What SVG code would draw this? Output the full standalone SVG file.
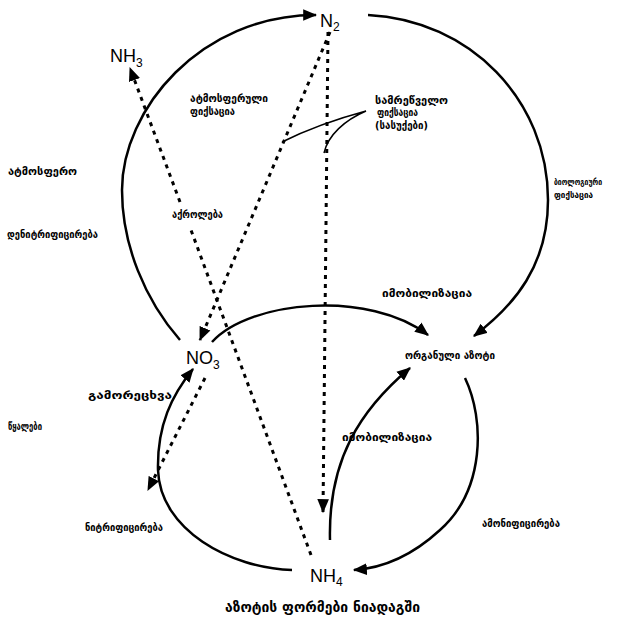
<svg xmlns="http://www.w3.org/2000/svg" width="625" height="630" viewBox="0 0 625 630">
<style>
.arc{fill:none;stroke:#000;stroke-width:2.5}
.dash{fill:none;stroke:#000;stroke-width:3;stroke-dasharray:4 5}
.thin{fill:none;stroke:#000;stroke-width:1.5}
.lbl{font-family:"DejaVu Sans",sans-serif;font-weight:bold;font-size:11px;fill:#000}
.sm{font-size:9px}
.chem{font-family:"Liberation Sans",Arial,sans-serif;font-size:18px;fill:#000}
.sub{font-size:12px}
.title{font-family:"DejaVu Sans",sans-serif;font-weight:bold;font-size:15px;fill:#000}
</style>
<defs>
<marker id="ah" viewBox="0 0 12 10" refX="11" refY="5" markerWidth="14" markerHeight="12" markerUnits="userSpaceOnUse" orient="auto">
<path d="M0,0 L12,5 L0,10 Z" fill="#000"/>
</marker>
</defs>
<rect width="625" height="630" fill="#fff"/>
<g id="connectors">
<path class="arc" d="M180,340 C145,300 122,245 122,190 C122,110 200,15 316,15" marker-end="url(#ah)"/>
<path class="arc" d="M368,15 C470,20 548,100 548,200 C548,265 515,305 474,336" marker-end="url(#ah)"/>
<path class="arc" d="M212,342 C250,300 370,290 428,335" marker-end="url(#ah)"/>
<path class="arc" d="M465,378 C485,420 485,490 440,530 C415,553 385,568 354,570" marker-end="url(#ah)"/>
<path class="arc" d="M292,570 C230,568 160,530 158,470 C157,425 172,395 193,369" marker-end="url(#ah)"/>
<path class="arc" d="M330,540 C328,460 360,410 410,368" marker-end="url(#ah)"/>
<path class="dash" d="M330,32 L200,340" marker-end="url(#ah)"/>
<path class="dash" d="M328,32 L323,512" marker-end="url(#ah)"/>
<path class="dash" d="M311,555 L191,230"/>
<path class="dash" d="M180,202 L130,68" marker-end="url(#ah)"/>
<path class="dash" d="M205,378 L148,490" marker-end="url(#ah)"/>
<path class="thin" d="M282,142 C310,128 340,118 366,111 C345,120 328,135 324,153"/>
</g>
<g id="labels">
<text class="lbl" x="190" y="102" textLength="78" lengthAdjust="spacingAndGlyphs">ატმოსფერული</text>
<text class="lbl" x="190" y="115" textLength="45" lengthAdjust="spacingAndGlyphs">ფიქსაცია</text>
<text class="lbl" x="375" y="104" textLength="73" lengthAdjust="spacingAndGlyphs">სამრეწველო</text>
<text class="lbl" x="377" y="116" textLength="41" lengthAdjust="spacingAndGlyphs">ფიქსაცია</text>
<text class="lbl" x="375" y="129" textLength="53" lengthAdjust="spacingAndGlyphs">(სასუქები)</text>
<text class="lbl" x="8" y="175" textLength="69" lengthAdjust="spacingAndGlyphs">ატმოსფერო</text>
<text class="lbl" x="7" y="238" textLength="91" lengthAdjust="spacingAndGlyphs">დენიტრიფიცირება</text>
<text class="lbl" x="172" y="218" textLength="51" lengthAdjust="spacingAndGlyphs">აქროლება</text>
<text class="lbl sm" x="554" y="185" textLength="48" lengthAdjust="spacingAndGlyphs">ბიოლოგიური</text>
<text class="lbl sm" x="554" y="198" textLength="39" lengthAdjust="spacingAndGlyphs">ფიქსაცია</text>
<text class="lbl" x="382" y="297" textLength="90" lengthAdjust="spacingAndGlyphs">იმობილიზაცია</text>
<text class="lbl" x="88" y="399" textLength="84" lengthAdjust="spacingAndGlyphs">გამორეცხვა</text>
<text class="lbl" x="8" y="430" textLength="34" lengthAdjust="spacingAndGlyphs">წყალები</text>
<text class="lbl" x="342" y="441" textLength="90" lengthAdjust="spacingAndGlyphs">იმობილიზაცია</text>
<text class="lbl" x="85" y="531" textLength="78" lengthAdjust="spacingAndGlyphs">ნიტრიფიცირება</text>
<text class="lbl" x="482" y="527" textLength="78" lengthAdjust="spacingAndGlyphs">ამონიფიცირება</text>
</g>
<g id="n2"><text class="chem" x="320" y="27">N<tspan class="sub" dy="4">2</tspan></text></g>
<g id="nh3"><text class="chem" x="110" y="62">NH<tspan class="sub" dy="5">3</tspan></text></g>
<g id="no3"><text class="chem" x="186" y="364">NO<tspan class="sub" dy="5">3</tspan></text></g>
<g id="org"><text class="lbl" x="405" y="359" textLength="90" lengthAdjust="spacingAndGlyphs">ორგანული აზოტი</text></g>
<g id="nh4"><text class="chem" x="310" y="582">NH<tspan class="sub" dy="4">4</tspan></text></g>
<g id="caption"><text class="title" x="225" y="612" textLength="195" lengthAdjust="spacingAndGlyphs">აზოტის ფორმები ნიადაგში</text></g>
</svg>
